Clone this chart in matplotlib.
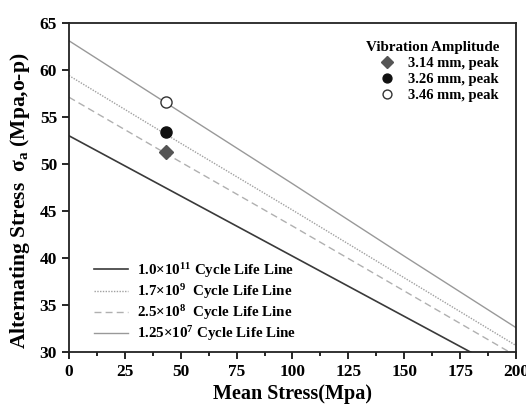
import matplotlib.pyplot as plt
from matplotlib.ticker import MultipleLocator

plt.rcParams['font.family'] = 'Liberation Serif'
plt.rcParams['font.weight'] = 'bold'
plt.rcParams['mathtext.fontset'] = 'custom'
plt.rcParams['mathtext.rm'] = 'Liberation Serif:bold'
plt.rcParams['mathtext.it'] = 'Liberation Serif:bold'

# Life lines (mean stress vs alternating stress)
mean_stress = [0, 50, 100, 150, 200]
life_1e11 = [53.0, 46.6, 40.2, 33.8, 27.4]
life_17e9 = [59.4, 52.2, 45.1, 37.9, 30.7]
life_25e8 = [57.1, 50.2, 43.4, 36.5, 29.6]
life_125e7 = [63.1, 55.5, 47.9, 40.2, 32.6]

# Measured points per vibration amplitude
amp_x = [43.5, 43.5, 43.5]
amp_y = [51.3, 53.4, 56.6]
amp_labels = ['3.14 mm, peak', '3.26 mm, peak', '3.46 mm, peak']

fig = plt.figure(figsize=(5.26, 4.08), dpi=100)
ax = fig.add_axes([0.131, 0.137, 0.85, 0.807])

l1, = ax.plot(mean_stress, life_1e11, color='#3a3a3a', lw=1.2, ls='-')
l2, = ax.plot(mean_stress, life_17e9, color='#a0a0a0', lw=1.0, ls=(0, (1, 1)))
l3, = ax.plot(mean_stress, life_25e8, color='#b0b0b0', lw=1.0, ls=(0, (5, 3)))
l4, = ax.plot(mean_stress, life_125e7, color='#999999', lw=1.0, ls='-')

m1, = ax.plot(amp_x[0], amp_y[0], 'D', ms=7.5, color='#555555', ls='none')
m2, = ax.plot(amp_x[1], amp_y[1], 'o', ms=8, color='#111111', ls='none')
m3, = ax.plot(amp_x[2], amp_y[2], 'o', ms=8, mfc='white', mec='#333333', mew=1.0, ls='none')

leg1 = ax.legend([m1, m2, m3], amp_labels, title='Vibration Amplitude',
                 loc='upper right', frameon=False, fontsize=10.5, title_fontsize=10.8,
                 handletextpad=0.5, borderaxespad=0.6, labelspacing=0.2,
                 markerscale=0.8, bbox_to_anchor=(0.995, 0.99))
leg1._legend_box.align = 'right'
for t in leg1.get_texts():
    t.set_fontweight('bold')
leg1.get_title().set_fontweight('bold')
ax.add_artist(leg1)

life_labels = [r'1.0$\times$10$^{11}$ Cycle Life Line',
               r'1.7$\times$10$^{9}$  Cycle Life Line',
               r'2.5$\times$10$^{8}$  Cycle Life Line',
               r'1.25$\times$10$^{7}$ Cycle Life Line']
leg2 = ax.legend([l1, l2, l3, l4], life_labels, loc='lower left', frameon=False,
                 fontsize=10.8, handlelength=2.3, handletextpad=0.6,
                 labelspacing=0.15, borderaxespad=0.2,
                 bbox_to_anchor=(0.035, 0.0))

ax.set_xlim(0, 200)
ax.set_ylim(30, 65)
ax.xaxis.set_major_locator(MultipleLocator(25))
ax.xaxis.set_minor_locator(MultipleLocator(12.5))
ax.yaxis.set_major_locator(MultipleLocator(5))
ax.tick_params(axis='both', which='major', direction='out', length=5, width=1.2,
               labelsize=12.5)
ax.tick_params(axis='x', which='minor', direction='out', length=3, width=1.2)
for lab in ax.get_xticklabels() + ax.get_yticklabels():
    lab.set_fontweight('bold')
for s in ax.spines.values():
    s.set_linewidth(1.3)
    s.set_color('#222222')

ax.set_xlabel('Mean Stress(Mpa)', fontsize=14.5, fontweight='bold', labelpad=3)
ax.set_ylabel(r'Alternating Stress  σ$_{a}$ (Mpa,o-p)', fontsize=15.5,
              fontweight='bold')
ax.yaxis.set_label_coords(-0.082, 0.46)

fig.savefig('out.png', dpi=100)
